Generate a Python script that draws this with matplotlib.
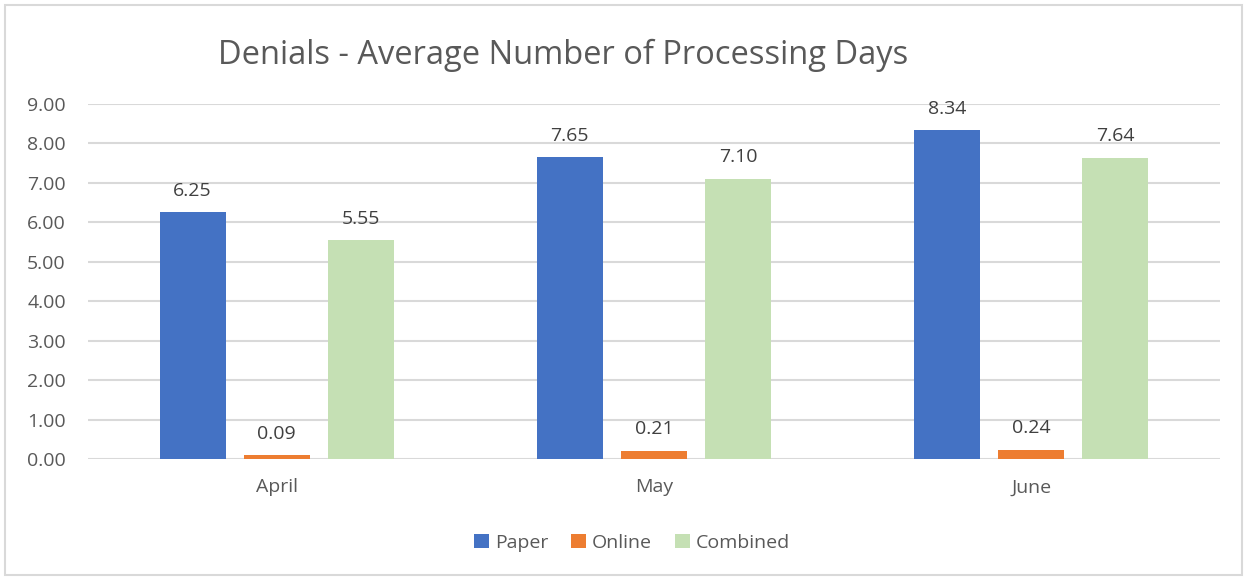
import numpy as np
import matplotlib
matplotlib.use('Agg')
import matplotlib.pyplot as plt
from matplotlib.patches import Rectangle

plt.rcParams['font.family'] = ['Open Sans', 'DejaVu Sans']

# данные
months = ['April', 'May', 'June']
paper = [6.25, 7.65, 8.34]
online = [0.09, 0.21, 0.24]
combined = [5.55, 7.10, 7.64]
series_names = ['Paper', 'Online', 'Combined']
colors = ['#4472C4', '#ED7D31', '#C5E0B4']
text_col = '#595959'

W, H = 1249, 579
fig = plt.figure(figsize=(W / 100, H / 100), dpi=100)
ax = fig.add_axes([88 / W, 1 - 459 / H, (1220 - 88) / W, (459 - 104) / H])

x = np.arange(len(months))
bw = 0.175
step = 0.223
bars = []
for i, (vals, name) in enumerate(zip([paper, online, combined], series_names)):
    b = ax.bar(x + (i - 1) * step, vals, width=bw, color=colors[i], label=name, zorder=3)
    bars.append(b)
    for xi, v in zip(x + (i - 1) * step, vals):
        ax.annotate(f'{v:.2f}', (xi, v), xytext=(0, 9), textcoords='offset points',
                    ha='center', va='bottom', fontsize=14, color='#404040')

ax.set_xlim(-0.5, 2.5)
ax.set_ylim(0, 9)
ax.set_yticks(np.arange(0, 10, 1))
ax.set_yticklabels([f'{v:.2f}' for v in np.arange(0, 10, 1)])
ax.set_xticks(x)
ax.set_xticklabels(months)
ax.grid(axis='y', color='#d9d9d9', linewidth=1.5, zorder=0)
ax.tick_params(length=0, labelsize=14, colors=text_col)
ax.tick_params(axis='y', pad=16)
ax.tick_params(axis='x', pad=14)
for s in ax.spines.values():
    s.set_visible(False)

fig.text(563 / W, 1 - 55 / H, 'Denials - Average Number of Processing Days',
         ha='center', va='center', fontsize=23.5, color=text_col)

fig.legend(handles=bars, labels=series_names, loc='center', bbox_to_anchor=(632 / W, 1 - 543 / H),
           ncol=3, frameon=False, fontsize=14, labelcolor=text_col,
           handlelength=0.75, handleheight=0.75, handletextpad=0.3, columnspacing=1.2)

# рамка вокруг графика
fig.patches.append(Rectangle((5 / W, 4 / H), (W - 12) / W, (H - 9) / H, transform=fig.transFigure,
                             fill=False, edgecolor='#d9d9d9', linewidth=1.5))

fig.savefig('out.png', dpi=100)
